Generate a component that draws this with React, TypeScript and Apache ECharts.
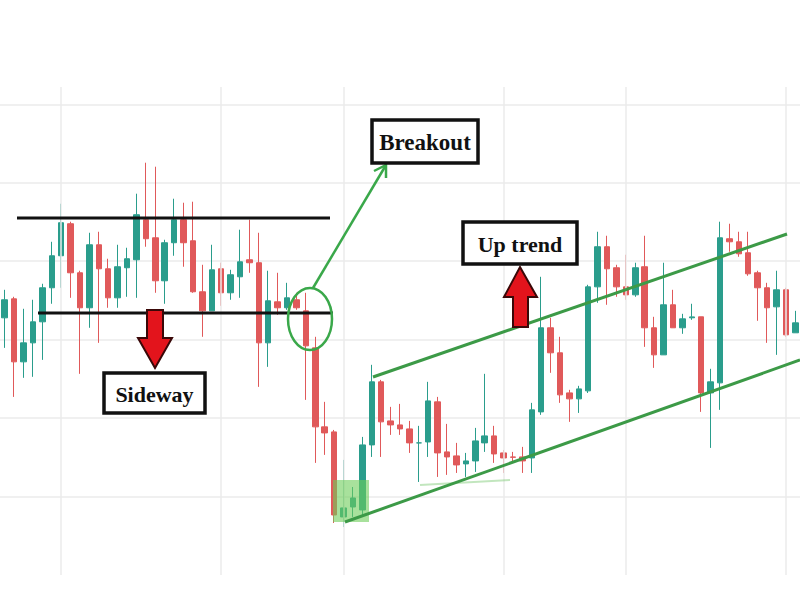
import React, { useEffect, useRef } from 'react';
import * as echarts from 'echarts';

const categories: string[] = Array.from({ length: 85 }, (_, i) => `D${i + 1}`);

const opens = [32.78,35.20,27.17,29.59,32.27,36.61,40.69,44.77,38.52,34.06,
  42.09,39.03,35.33,39.16,40.18,45.28,42.98,37.50,42.35,45.28,
  42.60,36.10,33.67,39.03,35.97,38.01,40.18,39.80,29.59,34.82,
  34.06,35.08,33.67,28.95,18.88,18.24,7.40,8.67,8.29,16.58,
  24.62,19.64,19.13,18.62,16.84,16.96,22.07,15.69,15.18,14.16,
  14.54,16.84,17.73,15.56,15.05,15.05,14.92,20.79,31.51,28.32,
  23.21,22.45,23.47,36.73,41.84,39.16,36.73,35.71,39.29,31.51,
  28.06,34.44,31.51,32.78,32.91,23.21,24.49,42.86,42.47,41.07,
  38.52,36.61,34.18,36.35,30.87];

const closes = [35.08,27.17,29.59,32.27,36.61,40.69,44.90,38.52,34.06,42.09,
  39.03,35.33,39.29,40.31,45.92,42.86,37.50,42.35,45.28,42.35,
  36.10,33.67,38.90,35.97,38.27,39.92,39.80,29.59,34.95,34.06,
  35.33,34.06,29.21,18.88,18.11,7.65,8.55,9.82,16.58,24.62,
  19.52,19.13,18.62,16.84,16.84,22.19,15.56,15.05,14.03,14.54,
  17.09,17.73,15.43,14.92,15.0,14.54,21.05,31.51,28.32,22.96,
  22.45,23.72,36.73,41.84,39.03,36.73,35.71,39.16,31.51,28.06,
  34.44,31.51,32.65,32.9,23.21,24.62,42.98,42.47,40.94,38.39,
  36.61,34.06,36.35,30.61,32.14];

const lows = [28.95,22.70,25.13,25.26,27.42,34.57,36.61,35.33,25.64,31.51,
  29.59,34.06,34.06,35.46,35.33,41.84,35.97,34.57,40.69,39.29,
  35.97,30.36,33.67,34.31,35.08,35.33,38.52,23.98,26.53,33.16,
  33.80,33.80,22.32,14.29,15.31,6.63,6.12,7.40,7.40,15.05,
  15.05,17.86,17.86,15.56,11.86,15.05,12.50,12.76,13.01,12.50,
  13.14,15.69,14.29,13.01,14.41,13.01,13.01,20.41,25.77,21.94,
  19.52,20.66,23.2,34.69,34.44,35.46,35.08,35.46,29.08,26.40,
  28.06,31.51,30.74,32.52,20.79,16.20,21.05,41.20,40.56,38.14,
  32.40,29.59,28.06,30.36,30.87];

const highs = [36.35,35.46,33.93,35.08,37.12,42.47,47.32,45.03,38.78,43.62,
  43.75,40.31,42.09,41.71,48.60,52.55,52.04,42.73,47.96,47.45,
  47.58,39.54,42.09,39.80,38.90,44.01,45.28,43.62,38.78,38.52,
  37.24,35.97,35.97,30.36,22.07,18.49,14.67,11.22,17.60,26.79,
  24.87,21.43,21.81,19.64,19.01,24.62,22.70,19.26,16.84,15.56,
  18.75,25.64,19.01,15.94,15.69,16.33,21.94,38.01,32.78,30.36,
  23.60,24.11,36.99,43.75,43.24,39.54,40.82,39.80,43.24,32.91,
  39.80,36.35,33.29,34.57,32.91,26.28,45.03,44.77,43.75,43.75,
  38.78,37.24,38.78,36.61,33.67];

const verticalGridIndices = [6, 23, 36, 53, 66, 83];

const UP = '#2a9d8c';
const DOWN = '#e0595a';
const LINE_GREEN = '#3c9a47';
const SERIF = '"Liberation Serif", "DejaVu Serif", serif';

function labelBox(x: number, y: number, w: number, h: number, text: string, size: number) {
  return {
    type: 'group',
    children: [
      { type: 'rect', z: 120, shape: { x, y, width: w, height: h }, style: { fill: '#ffffff', stroke: '#111111', lineWidth: 3.5 } },
      { type: 'text', z: 121, style: { text, x: x + w / 2, y: y + h / 2 + 1, font: `bold ${size}px ${SERIF}`, fill: '#111111', align: 'center', verticalAlign: 'middle' } },
    ],
  };
}

export default function App() {
  const ref = useRef<HTMLDivElement>(null);
  useEffect(() => {
    if (!ref.current) return;
    const chart = echarts.init(ref.current, undefined, { renderer: 'svg' });
    const data = opens.map((o, i) => [o, closes[i], lows[i], highs[i]]);
    chart.setOption({
      animation: false,
      backgroundColor: '#ffffff',
      grid: { left: 0, right: 0, top: 87, bottom: 25 },
      xAxis: {
        type: 'category',
        data: categories,
        boundaryGap: true,
        axisLine: { show: false },
        axisTick: { show: false },
        axisLabel: { show: false },
        splitLine: { show: false },
      },
      yAxis: {
        type: 'value',
        min: 0,
        max: 62.2,
        interval: 10,
        axisLine: { show: false },
        axisTick: { show: false },
        axisLabel: { show: false },
        splitLine: { show: true, showMaxLine: false, showMinLine: false, lineStyle: { color: '#ebebeb', width: 1.5 } },
      },
      series: [
        {
          type: 'line',
          data: [],
          z: 1,
          silent: true,
          markLine: {
            silent: true,
            symbol: ['none', 'none'],
            label: { show: false },
            lineStyle: { color: '#ebebeb', width: 1.5, type: 'solid' },
            data: verticalGridIndices.map((i) => ({ xAxis: categories[i] })),
          },
        },
        {
          type: 'candlestick',
          z: 3,
          barWidth: 6,
          data,
          itemStyle: { color: UP, color0: DOWN, borderColor: UP, borderColor0: DOWN, borderWidth: 1 },
        },
      ],
      graphic: [
        { type: 'line', z: 100, shape: { x1: 17, y1: 218, x2: 330, y2: 218 }, style: { stroke: '#111111', lineWidth: 3 } },
        { type: 'line', z: 100, shape: { x1: 38, y1: 313, x2: 333, y2: 313 }, style: { stroke: '#111111', lineWidth: 3 } },
        { type: 'polygon', z: 110, shape: { points: [[147, 310], [163, 310], [163, 338], [172, 338], [155, 368], [138, 338], [147, 338]] }, style: { fill: '#e3141c', stroke: '#3a0808', lineWidth: 2 } },
        labelBox(104, 373, 101, 40, 'Sideway', 22),
        { type: 'ellipse', z: 100, shape: { cx: 310, cy: 319, rx: 22, ry: 31 }, style: { fill: 'none', stroke: '#3aa84a', lineWidth: 2.5 } },
        { type: 'line', z: 100, shape: { x1: 313, y1: 288, x2: 386, y2: 165 }, style: { stroke: '#3aa84a', lineWidth: 2.5 } },
        { type: 'polyline', z: 100, shape: { points: [[374, 171], [386, 165], [386, 178]] }, style: { fill: 'none', stroke: '#3aa84a', lineWidth: 2.5 } },
        labelBox(372, 120, 106, 43, 'Breakout', 23),
        { type: 'rect', z: 100, shape: { x: 333, y: 480, width: 36, height: 42 }, style: { fill: 'rgba(110,205,90,0.6)' } },
        { type: 'line', z: 100, shape: { x1: 373, y1: 377, x2: 787, y2: 234 }, style: { stroke: LINE_GREEN, lineWidth: 3 } },
        { type: 'line', z: 100, shape: { x1: 345, y1: 522, x2: 800, y2: 360 }, style: { stroke: LINE_GREEN, lineWidth: 3 } },
        { type: 'line', z: 99, shape: { x1: 420, y1: 485, x2: 510, y2: 480 }, style: { stroke: 'rgba(120,200,110,0.45)', lineWidth: 2 } },
        { type: 'polygon', z: 110, shape: { points: [[520, 267], [537, 297], [528, 297], [528, 327], [513, 327], [513, 297], [504, 297]] }, style: { fill: '#e3141c', stroke: '#3a0808', lineWidth: 2 } },
        labelBox(463, 222, 114, 42, 'Up trend', 22),
      ],
    });
    return () => chart.dispose();
  }, []);
  return <div ref={ref} style={{ position: 'fixed', left: 0, top: 0, width: 800, height: 600 }} />;
}
